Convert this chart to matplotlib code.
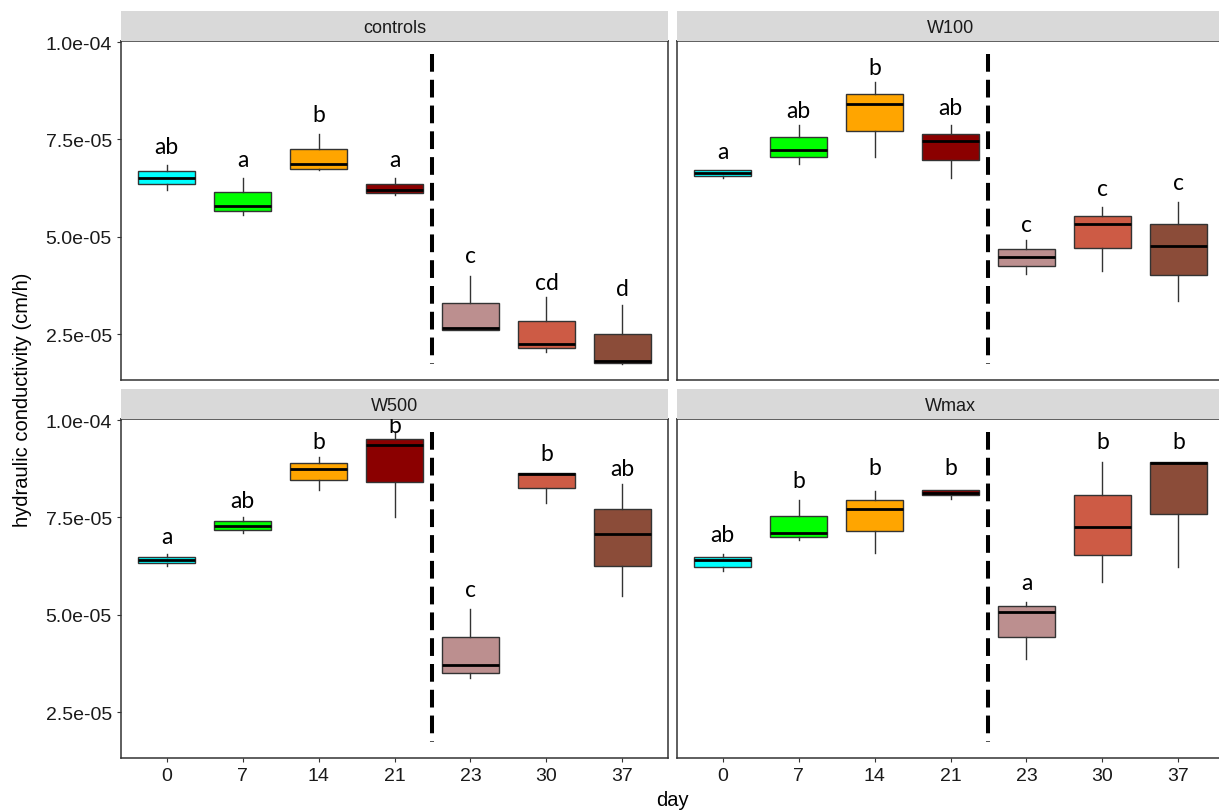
import matplotlib
matplotlib.use("Agg")
import matplotlib.pyplot as plt
import numpy as np

# data, hydraulic conductivity in units of 1e-5 cm/h
panels = ["controls", "W100", "W500", "Wmax"]
days = ["0", "7", "14", "21", "23", "30", "37"]
box_colors = ["#00FFFF", "#00FF00", "#FFA500", "#8B0000", "#BC8F8F", "#CD5B45", "#8B4C39"]

whis_low = [
    [6.20, 5.56, 6.71, 6.07, 2.60, 2.04, 1.73],
    [6.52, 6.86, 7.04, 6.52, 4.04, 4.12, 3.34],
    [6.26, 7.10, 8.20, 7.51, 3.37, 7.87, 5.47],
    [6.13, 6.92, 6.58, 7.98, 3.86, 5.85, 6.24],
]
q1 = [
    [6.345, 5.67, 6.75, 6.13, 2.60, 2.13, 1.76],
    [6.57, 7.04, 7.72, 6.96, 4.24, 4.71, 4.02],
    [6.32, 7.19, 8.47, 8.41, 3.51, 8.26, 6.26],
    [6.24, 7.00, 7.14, 8.08, 4.44, 6.54, 7.58],
]
median = [
    [6.52, 5.79, 6.86, 6.20, 2.65, 2.25, 1.80],
    [6.65, 7.24, 8.41, 7.45, 4.47, 5.34, 4.76],
    [6.41, 7.29, 8.75, 9.37, 3.71, 8.62, 7.08],
    [6.41, 7.10, 7.72, 8.14, 5.08, 7.25, 8.91],
]
q3 = [
    [6.69, 6.14, 7.25, 6.345, 3.30, 2.83, 2.50],
    [6.71, 7.57, 8.68, 7.63, 4.68, 5.53, 5.32],
    [6.48, 7.40, 8.90, 9.52, 4.42, 8.64, 7.71],
    [6.48, 7.53, 7.94, 8.20, 5.22, 8.07, 8.93],
]
whis_high = [
    [6.84, 6.50, 7.65, 6.50, 3.98, 3.45, 3.25],
    [6.72, 7.88, 8.98, 7.88, 4.92, 5.77, 5.90],
    [6.56, 7.51, 9.05, 9.70, 5.16, 8.64, 8.37],
    [6.56, 7.95, 8.18, 8.21, 5.34, 8.93, 8.93],
]
letters = [
    ["ab", "a", "b", "a", "c", "cd", "d"],
    ["a", "ab", "b", "ab", "c", "c", "c"],
    ["a", "ab", "b", "b", "c", "b", "ab"],
    ["ab", "b", "b", "b", "a", "b", "b"],
]
letter_y = [
    [7.16, 6.81, 7.97, 6.81, 4.36, 3.66, 3.51],
    [7.03, 8.08, 9.19, 8.16, 5.16, 6.07, 6.22],
    [6.85, 7.77, 9.29, 9.70, 5.49, 8.97, 8.58],
    [6.89, 8.28, 8.62, 8.62, 5.66, 9.29, 9.29],
]
scale = 1e-5
yticks = [2.5e-5, 5.0e-5, 7.5e-5, 1.0e-4]

W, H = 1219, 812
fig = plt.figure(figsize=(W / 100, H / 100), dpi=100)
plt.rcParams["font.family"] = ["Liberation Sans", "DejaVu Sans"]

# pixel boxes of the panels (left, top)
panel_left = [121, 677, 121, 677]
panel_top = [42, 42, 420, 420]
pw, ph, strip_h = 547, 339, 30

seg_lo = min(min(r) for r in whis_low) * scale
seg_hi = max(max(r) for r in whis_high) * scale

for k, name in enumerate(panels):
    l, t = panel_left[k], panel_top[k]
    ax = fig.add_axes([l / W, 1 - (t + ph) / H, pw / W, ph / H])
    sax = fig.add_axes([l / W, 1 - t / H, pw / W, strip_h / H])
    sax.set_facecolor("#D9D9D9")
    sax.set_xticks([])
    sax.set_yticks([])
    for s in sax.spines.values():
        s.set_visible(False)
    sax.text(0.5, 0.45, name, ha="center", va="center", fontsize=13, color="#1a1a1a",
             transform=sax.transAxes)

    stats = []
    for i in range(len(days)):
        stats.append({
            "whislo": whis_low[k][i] * scale,
            "q1": q1[k][i] * scale,
            "med": median[k][i] * scale,
            "q3": q3[k][i] * scale,
            "whishi": whis_high[k][i] * scale,
            "fliers": [],
        })
    pos = np.arange(1, len(days) + 1)
    bp = ax.bxp(stats, positions=pos, widths=0.75, patch_artist=True, showcaps=False,
                showfliers=False,
                boxprops=dict(edgecolor="#333333", linewidth=1.0),
                whiskerprops=dict(color="#333333", linewidth=1.0),
                medianprops=dict(color="black", linewidth=2.0))
    for patch, c in zip(bp["boxes"], box_colors):
        patch.set_facecolor(c)

    for i in range(len(days)):
        ax.text(pos[i], letter_y[k][i] * scale, letters[k][i], ha="center", va="baseline",
                fontsize=16.5, family=["Lato", "DejaVu Sans"], color="black")

    ax.plot([4.5, 4.5], [seg_hi, seg_lo], color="black", linewidth=2.9,
            linestyle=(0, (4.4, 2.0)), solid_capstyle="butt", dash_capstyle="butt")

    ax.set_xlim(0.4, 7.6)
    ax.set_ylim(1.32e-5, 1.003e-4)
    for s in ax.spines.values():
        s.set_color("#333333")
        s.set_linewidth(1.1)

    ax.tick_params(length=3, width=0.8, color="#333333", labelsize=14, labelcolor="#1a1a1a")
    ax.set_xticks(pos)
    ax.set_yticks(yticks)
    if k >= 2:
        ax.set_xticklabels(days)
    else:
        ax.tick_params(axis="x", length=0, labelbottom=False)
    if k % 2 == 0:
        ax.set_yticklabels(["%.1e" % v for v in yticks])
    else:
        ax.tick_params(axis="y", length=0, labelleft=False)

fig.text(23 / W, 1 - 400 / H, "hydraulic conductivity (cm/h)", rotation=90, ha="center",
         va="center", fontsize=14.5, color="black")
fig.text(672 / W, 1 - 801 / H, "day", ha="center", va="center", fontsize=14.5, color="black")

fig.savefig("out.png", dpi=100)
